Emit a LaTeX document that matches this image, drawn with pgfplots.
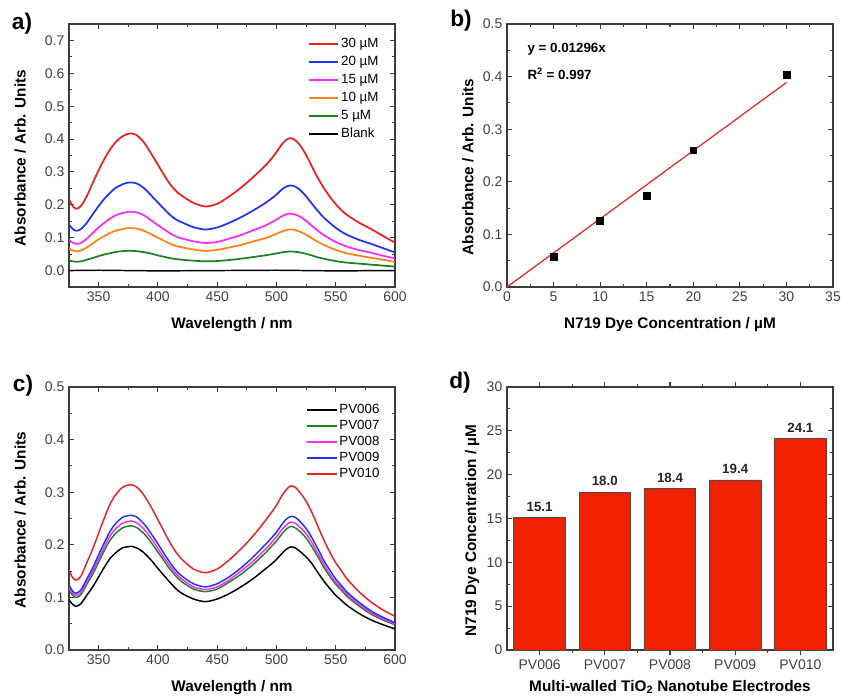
\documentclass[border=0pt]{standalone}
\usepackage{fontspec}
\setmainfont{Liberation Sans}
\usepackage{pgfplots}
\pgfplotsset{compat=1.18}
\usepackage{pgfplotstable}

\definecolor{ored}{RGB}{240,30,30}
\definecolor{oblue}{RGB}{30,50,250}
\definecolor{omag}{RGB}{250,40,250}
\definecolor{oorange}{RGB}{255,128,20}
\definecolor{ogreen}{RGB}{30,130,30}
\definecolor{barred}{RGB}{240,32,0}
\definecolor{axgray}{RGB}{60,60,60}

% panel a: dye solutions, absorbance vs wavelength
\pgfplotstableread{
wl  c30   c20   c15   c10   c5
325 0.218 0.140 0.094 0.068 0.031
328 0.197 0.127 0.085 0.061 0.028
331 0.188 0.121 0.081 0.058 0.027
335 0.196 0.126 0.084 0.061 0.028
340 0.226 0.145 0.097 0.070 0.033
345 0.266 0.171 0.114 0.082 0.038
350 0.305 0.196 0.131 0.095 0.044
355 0.340 0.219 0.146 0.105 0.049
360 0.370 0.238 0.159 0.115 0.053
365 0.393 0.253 0.169 0.122 0.057
370 0.408 0.262 0.175 0.126 0.059
374 0.415 0.267 0.178 0.129 0.060
378 0.417 0.268 0.179 0.129 0.060
382 0.412 0.265 0.177 0.128 0.059
386 0.399 0.257 0.172 0.124 0.057
390 0.381 0.245 0.164 0.118 0.055
395 0.352 0.226 0.151 0.109 0.051
400 0.322 0.207 0.138 0.100 0.046
405 0.292 0.188 0.126 0.091 0.042
410 0.264 0.170 0.114 0.082 0.038
415 0.243 0.156 0.104 0.075 0.035
420 0.228 0.147 0.098 0.071 0.033
430 0.206 0.132 0.089 0.064 0.030
440 0.195 0.125 0.084 0.060 0.028
450 0.203 0.131 0.087 0.063 0.029
460 0.225 0.145 0.097 0.070 0.032
470 0.252 0.162 0.108 0.078 0.036
480 0.283 0.182 0.122 0.088 0.041
490 0.317 0.204 0.136 0.098 0.046
495 0.337 0.217 0.145 0.104 0.049
500 0.360 0.231 0.155 0.112 0.052
504 0.381 0.245 0.164 0.118 0.055
508 0.397 0.255 0.171 0.123 0.057
512 0.403 0.259 0.173 0.125 0.058
516 0.396 0.255 0.170 0.123 0.057
520 0.381 0.245 0.164 0.118 0.055
525 0.352 0.226 0.151 0.109 0.051
530 0.316 0.203 0.136 0.098 0.046
535 0.281 0.181 0.121 0.087 0.040
540 0.251 0.161 0.108 0.078 0.036
545 0.225 0.145 0.097 0.070 0.032
550 0.202 0.130 0.087 0.063 0.029
555 0.183 0.118 0.079 0.057 0.026
560 0.168 0.108 0.072 0.052 0.024
570 0.145 0.093 0.062 0.045 0.021
580 0.126 0.081 0.054 0.039 0.018
590 0.105 0.068 0.045 0.033 0.015
600 0.085 0.055 0.037 0.026 0.012
}\spectraA

% panel c: electrodes
\pgfplotstableread{
wl  pv6   pv7   pv8   pv9   pv10
325 0.095 0.114 0.119 0.124 0.152
328 0.087 0.104 0.108 0.112 0.138
331 0.083 0.100 0.104 0.108 0.133
335 0.088 0.105 0.109 0.114 0.140
340 0.104 0.125 0.129 0.135 0.166
345 0.120 0.144 0.150 0.156 0.192
350 0.139 0.167 0.173 0.181 0.222
355 0.158 0.190 0.197 0.205 0.252
360 0.175 0.210 0.218 0.227 0.279
365 0.186 0.223 0.232 0.242 0.297
370 0.194 0.232 0.241 0.252 0.309
374 0.196 0.235 0.244 0.255 0.313
378 0.197 0.236 0.245 0.256 0.314
382 0.194 0.233 0.242 0.253 0.310
386 0.189 0.226 0.235 0.245 0.301
390 0.181 0.217 0.225 0.235 0.288
395 0.169 0.202 0.210 0.219 0.269
400 0.155 0.186 0.193 0.202 0.248
405 0.142 0.170 0.176 0.184 0.226
410 0.129 0.154 0.160 0.167 0.205
415 0.117 0.141 0.146 0.152 0.187
420 0.108 0.130 0.135 0.141 0.173
430 0.097 0.116 0.120 0.126 0.154
440 0.092 0.111 0.115 0.120 0.147
450 0.097 0.116 0.120 0.126 0.154
460 0.107 0.129 0.133 0.139 0.171
470 0.120 0.144 0.150 0.156 0.192
480 0.135 0.162 0.168 0.176 0.216
490 0.153 0.183 0.190 0.199 0.244
495 0.162 0.195 0.202 0.211 0.259
500 0.172 0.207 0.215 0.224 0.275
504 0.182 0.219 0.227 0.237 0.291
508 0.191 0.229 0.237 0.248 0.304
512 0.196 0.235 0.243 0.254 0.312
516 0.194 0.232 0.241 0.252 0.309
520 0.187 0.225 0.233 0.244 0.299
525 0.177 0.213 0.221 0.231 0.283
530 0.164 0.196 0.204 0.213 0.261
535 0.147 0.177 0.183 0.192 0.235
540 0.131 0.157 0.163 0.170 0.209
545 0.117 0.140 0.145 0.152 0.186
550 0.104 0.125 0.129 0.135 0.166
555 0.094 0.113 0.117 0.122 0.150
560 0.084 0.101 0.105 0.109 0.134
570 0.069 0.083 0.086 0.090 0.110
580 0.057 0.068 0.071 0.074 0.091
590 0.048 0.057 0.059 0.062 0.076
600 0.040 0.048 0.050 0.052 0.064
}\spectraC

\pgfplotsset{
  orig/.style={
    scale only axis, width=244.5pt, height=197.25pt, anchor=south west,
    axis line style={axgray, line width=0.9pt},
    major tick length=4pt, minor tick length=2.3pt,
    every tick/.style={axgray, line width=0.8pt},
    tick label style={font=\fontsize{10.5}{12}\selectfont, color=black!75},
    label style={font=\fontsize{11.5}{13}\selectfont\bfseries},
    /pgf/number format/assume math mode=true,
    legend cell align=left,
  },
  specx/.style={xmin=325, xmax=600, xtick={350,400,...,600}, minor x tick num=1,
    xlabel={Wavelength / nm},
    xlabel style={at={(axis description cs:0.5,-0.141)}, anchor=center},
    yticklabel style={/pgf/number format/.cd, fixed, fixed zerofill, precision=1}},
}

\begin{document}
\begin{tikzpicture}
\useasboundingbox (0,0) rectangle (630.75pt,522pt);

% a)
\begin{axis}[orig, specx, at={(51.75pt,306.75pt)},
  ymin=-0.05, ymax=0.75, ytick={0,0.1,...,0.7}, minor y tick num=1,
  ylabel={Absorbance / Arb. Units},
  ylabel style={at={(axis description cs:-0.150,0.49)}, anchor=center},
  legend image code/.code={\draw[#1, line width=1.4pt] (0pt,0pt) -- (22pt,0pt);},
  legend style={at={(rel axis cs:0.72,0.965)}, anchor=north west, draw=none, fill=none,
    font=\fontsize{10}{11}\selectfont, row sep=1.5pt,
    nodes={inner sep=1.5pt, text height=7pt, text depth=2pt}}]
\addplot[ored, line width=1.3pt, smooth] table[x=wl, y=c30] {\spectraA};
\addlegendentry{30 µM}
\addplot[oblue, line width=1.3pt, smooth] table[x=wl, y=c20] {\spectraA};
\addlegendentry{20 µM}
\addplot[omag, line width=1.3pt, smooth] table[x=wl, y=c15] {\spectraA};
\addlegendentry{15 µM}
\addplot[oorange, line width=1.3pt, smooth] table[x=wl, y=c10] {\spectraA};
\addlegendentry{10 µM}
\addplot[ogreen, line width=1.3pt, smooth] table[x=wl, y=c5] {\spectraA};
\addlegendentry{5 µM}
\addplot[black, line width=1.1pt] coordinates {(325,0.000) (350,0.001) (400,-0.001) (450,0.000) (500,0.001) (550,-0.001) (600,0.000)};
\addlegendentry{Blank}
\end{axis}

% b)
\begin{axis}[orig, at={(380.25pt,306.75pt)},
  xmin=0, xmax=35, xtick={0,5,...,35}, minor x tick num=1,
  ymin=0, ymax=0.5, ytick={0,0.1,...,0.5}, minor y tick num=1,
  yticklabel style={/pgf/number format/.cd, fixed, fixed zerofill, precision=1},
  xlabel={N719 Dye Concentration / µM},
  xlabel style={at={(axis description cs:0.5,-0.144)}, anchor=center},
  ylabel={Absorbance / Arb. Units},
  ylabel style={at={(axis description cs:-0.120,0.456)}, anchor=center}]
\addplot[ored, line width=0.9pt] coordinates {(0,0) (30,0.3888)};
\addplot[only marks, mark=square*, mark size=2.6pt, black] coordinates {(5,0.057) (10,0.126) (15,0.174) (20,0.260) (30,0.404)};
\node[anchor=west, font=\fontsize{10}{12}\selectfont\bfseries] at (axis cs:1.7,0.452) {y = 0.01296x};
\node[anchor=west, font=\fontsize{10}{12}\selectfont\bfseries] at (axis cs:1.7,0.405) {R\textsuperscript{2} = 0.997};
\end{axis}

% c)
\begin{axis}[orig, specx, at={(51.75pt,34.5pt)},
  ymin=0, ymax=0.5, ytick={0,0.1,...,0.5}, minor y tick num=1,
  ylabel={Absorbance / Arb. Units},
  ylabel style={at={(axis description cs:-0.150,0.494)}, anchor=center},
  legend image code/.code={\draw[#1, line width=1.3pt] (0pt,0pt) -- (22pt,0pt);},
  legend style={at={(rel axis cs:0.715,0.955)}, anchor=north west, draw=none, fill=none,
    font=\fontsize{10}{11}\selectfont, row sep=0pt,
    nodes={inner sep=1.5pt, text height=7pt, text depth=2pt}}]
\addplot[black, line width=1.1pt, smooth] table[x=wl, y=pv6] {\spectraC};
\addlegendentry{PV006}
\addplot[ogreen, line width=1.1pt, smooth] table[x=wl, y=pv7] {\spectraC};
\addlegendentry{PV007}
\addplot[omag, line width=1.1pt, smooth] table[x=wl, y=pv8] {\spectraC};
\addlegendentry{PV008}
\addplot[oblue, line width=1.1pt, smooth] table[x=wl, y=pv9] {\spectraC};
\addlegendentry{PV009}
\addplot[ored, line width=1.1pt, smooth] table[x=wl, y=pv10] {\spectraC};
\addlegendentry{PV010}
\end{axis}

% d)
\begin{axis}[orig, at={(380.25pt,34.5pt)}, ybar, bar width=0.79,
  xmin=-0.5, xmax=4.5, xtick={0,1,2,3,4}, minor x tick num=1,
  xticklabels={PV006,PV007,PV008,PV009,PV010},
  ymin=0, ymax=30, ytick={0,5,...,30}, minor y tick num=1,
  xlabel={Multi-walled TiO\textsubscript{2} Nanotube Electrodes},
  xlabel style={at={(axis description cs:0.5,-0.141)}, anchor=center},
  ylabel={N719 Dye Concentration / µM},
  ylabel style={at={(axis description cs:-0.107,0.455)}, anchor=center},
  nodes near coords,
  every node near coord/.append style={font=\fontsize{10}{11}\selectfont\bfseries, color=black!85, yshift=1pt,
    /pgf/number format/fixed, /pgf/number format/fixed zerofill, /pgf/number format/precision=1}]
\addplot[fill=barred, draw=black!70, line width=0.6pt] coordinates {(0,15.1) (1,18.0) (2,18.4) (3,19.4) (4,24.1)};
\end{axis}

\node[font=\fontsize{17}{20}\selectfont\bfseries] at (16.5pt,504pt) {a)};
\node[font=\fontsize{17}{20}\selectfont\bfseries] at (345.75pt,506.25pt) {b)};
\node[font=\fontsize{17}{20}\selectfont\bfseries] at (17.25pt,232.5pt) {c)};
\node[font=\fontsize{17}{20}\selectfont\bfseries] at (345pt,234.75pt) {d)};
\end{tikzpicture}
\end{document}
